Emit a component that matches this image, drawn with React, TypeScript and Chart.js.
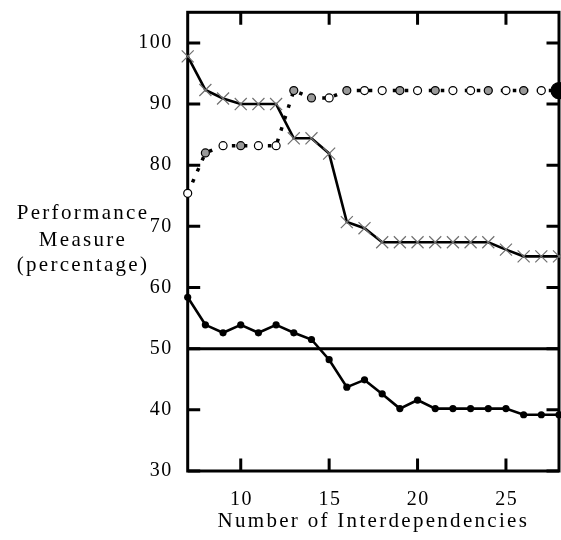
import React, { useEffect, useRef } from "react";
import { Chart, registerables } from "chart.js";

Chart.register(...registerables);

// ---- data ----
const interdependencies = [7, 8, 9, 10, 11, 12, 13, 14, 15, 16, 17, 18, 19, 20, 21, 22, 23, 24, 25, 26, 27, 28];
const crossSeries = [97.8, 92.3, 90.9, 90, 90, 90, 84.4, 84.4, 81.9, 70.7, 69.7, 67.4, 67.4, 67.4, 67.4, 67.4, 67.4, 67.4, 66.2, 65.1, 65.1, 65.1];
const dotSeries = [58.4, 53.9, 52.6, 53.9, 52.6, 53.9, 52.6, 51.5, 48.2, 43.7, 44.9, 42.6, 40.2, 41.6, 40.2, 40.2, 40.2, 40.2, 40.2, 39.2, 39.2, 39.2];
const circleSeries = [75.4, 82.0, 83.2, 83.2, 83.2, 83.2, 92.2, 91.0, 91.0, 92.2, 92.2, 92.2, 92.2, 92.2, 92.2, 92.2, 92.2, 92.2, 92.2, 92.2, 92.2, 92.2];
const baselineValue = 50;
const xTickValues = [10, 15, 20, 25];
const yTickValues = [30, 40, 50, 60, 70, 80, 90, 100];
const xTitle = "Number of Interdependencies";
const yTitleLines = ["Performance", "Measure", "(percentage)"];
const shadedCircleAt = [8, 10, 13, 14, 16, 19, 21, 24, 26];

const FONT = "'Liberation Serif', 'Times New Roman', serif";

const framePlugin = {
  id: "frame",
  beforeDraw(chart: any) {
    chart.ctx.letterSpacing = "1.5px";
  },
  beforeDatasetsDraw(chart: any) {
    const { ctx, chartArea: a, scales } = chart;
    const x = scales.x;
    const y = scales.y;
    ctx.save();
    ctx.strokeStyle = "#000";
    ctx.lineWidth = 3;
    ctx.strokeRect(a.left, a.top, a.right - a.left, a.bottom - a.top);
    const L = 12.5;
    ctx.beginPath();
    for (const t of x.ticks) {
      const px = x.getPixelForValue(t.value);
      ctx.moveTo(px, a.top);
      ctx.lineTo(px, a.top + L);
      ctx.moveTo(px, a.bottom);
      ctx.lineTo(px, a.bottom - L);
    }
    for (const t of y.ticks) {
      const py = y.getPixelForValue(t.value);
      ctx.moveTo(a.left, py);
      ctx.lineTo(a.left + L, py);
      ctx.moveTo(a.right, py);
      ctx.lineTo(a.right - L, py);
    }
    ctx.stroke();
    ctx.restore();
  },
  afterDraw(chart: any) {
    const { ctx, chartArea: a, scales } = chart;
    const x = scales.x;
    ctx.save();
    ctx.fillStyle = "#000";
    // x tick labels
    ctx.font = `20px ${FONT}`;
    (ctx as any).letterSpacing = "1.5px";
    ctx.textAlign = "center";
    ctx.textBaseline = "top";
    for (const t of x.ticks) {
      ctx.fillText(String(t.value), x.getPixelForValue(t.value) + 0.75, a.bottom + 19);
    }
    // titles
    ctx.font = `21px ${FONT}`;
    (ctx as any).letterSpacing = "2.3px";
    ctx.textBaseline = "middle";
    const cy = [213.5, 240.5, 265.5];
    yTitleLines.forEach((line, i) => ctx.fillText(line, 83, cy[i]));
    ctx.textBaseline = "alphabetic";
    ctx.fillText(xTitle, (a.left + a.right) / 2, 527);
    ctx.restore();
  },
};

const zeroPad = (s: any) => {
  s.paddingLeft = 0;
  s.paddingRight = 0;
  s.paddingTop = 0;
  s.paddingBottom = 0;
};

export default function App() {
  const ref = useRef<HTMLCanvasElement>(null);
  useEffect(() => {
    if (!ref.current) return;
    const pts = (vals: number[]) => interdependencies.map((x, i) => ({ x, y: vals[i] }));
    const last = interdependencies.length - 1;
    const chart = new Chart(ref.current, {
      type: "line",
      data: {
        datasets: [
          {
            data: pts(crossSeries),
            borderColor: "#000",
            borderWidth: 2.6,
            pointStyle: "crossRot",
            pointRadius: 8.5,
            pointBorderColor: "#707070",
            pointBorderWidth: 1.2,
            pointBackgroundColor: "transparent",
            clip: false,
          },
          {
            data: pts(circleSeries),
            borderColor: "#000",
            borderWidth: 3.5,
            borderDash: [3.5, 8.5],
            borderCapStyle: "butt",
            pointStyle: "circle",
            pointRadius: (c: any) => (c.dataIndex === last ? 8 : 4),
            pointBorderColor: "#000",
            pointBorderWidth: 1.2,
            pointBackgroundColor: (c: any) =>
              c.dataIndex === last ? "#000" : shadedCircleAt.includes(interdependencies[c.dataIndex]) ? "#999" : "#fff",
            clip: false,
          } as any,
          {
            data: pts(dotSeries),
            borderColor: "#000",
            borderWidth: 2.6,
            pointStyle: "circle",
            pointRadius: 3.6,
            pointBorderWidth: 0,
            pointBackgroundColor: "#000",
            clip: false,
          },
          {
            data: [
              { x: interdependencies[0], y: baselineValue },
              { x: interdependencies[last], y: baselineValue },
            ],
            borderColor: "#000",
            borderWidth: 3,
            pointRadius: 0,
            clip: false,
          },
        ],
      },
      options: {
        responsive: false,
        animation: false,
        devicePixelRatio: 1,
        layout: { autoPadding: false, padding: { left: 0, top: 12.3, right: 2, bottom: 0 } },
        plugins: { legend: { display: false }, tooltip: { enabled: false } },
        elements: { line: { tension: 0 } },
        scales: {
          x: {
            type: "linear",
            min: 7,
            max: 28,
            offset: false,
            grid: { display: false, drawTicks: false },
            border: { display: false },
            ticks: { display: false },
            afterBuildTicks: (s: any) => {
              s.ticks = xTickValues.map((v) => ({ value: v }));
            },
            afterFit: (s: any) => {
              s.height = 69;
              zeroPad(s);
            },
          },
          y: {
            type: "linear",
            min: 30,
            max: 105,
            grid: { display: false, drawTicks: false },
            border: { display: false },
            ticks: { color: "#000", font: { family: FONT, size: 20 }, padding: 15 },
            afterBuildTicks: (s: any) => {
              s.ticks = yTickValues.map((v) => ({ value: v }));
            },
            afterFit: (s: any) => {
              s.width = 187.7;
              zeroPad(s);
            },
          },
        },
      } as any,
      plugins: [framePlugin],
    });
    return () => chart.destroy();
  }, []);
  return (
    <div style={{ position: "absolute", left: 0, top: 0, width: 561, height: 540, background: "#fff" }}>
      <canvas ref={ref} width={561} height={540} style={{ display: "block" }} />
    </div>
  );
}
